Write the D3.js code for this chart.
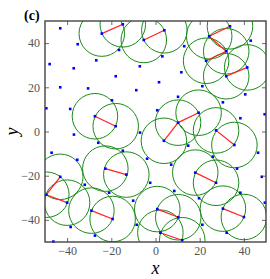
<!DOCTYPE html>
<html><head><meta charset="utf-8">
<script src="https://cdn.jsdelivr.net/npm/d3@7"></script>
<style>html,body{margin:0;padding:0;background:#fff;}svg{display:block;}</style>
</head><body>
<svg id="c" width="270" height="279"></svg>
<script>
// Bonded particles (centres of circles)
const nodeX = [-24.3,-14.8,-5.3,4.0,24.3,33.7,32.0,22.9,32.0,41.5,10.2,19.5,3.8,27.4,35.7,-49.4,-43.1,-40.0,-22.7,-13.2,-29.0,-19.4,-27.4,-18.0,18.0,27.4,0.8,10.3,30.5,40.0,2.2,12.1];
const nodeY = [44.3,48.5,41.4,45.8,43.1,47.6,36.3,32.0,25.0,29.0,4.0,8.5,-4.2,0.5,-6.1,-28.6,-20.5,-32.2,-16.8,-19.5,-35.8,-39.6,6.9,2.4,-18.6,-23.2,-35.1,-38.8,-34.9,-38.7,-45.8,-49.2];
const bondFrom = [0,2,4,4,7,8,10,10,13,15,15,18,20,22,24,26,28,30];
const bondTo   = [1,3,5,6,6,9,11,12,14,16,17,19,21,23,25,27,29,31];
const radius = 10.3;
// Free particles
const freeX = [-43.1,-35.2,-47.9,-37.0,-26.8,-16.5,-43.1,-30.5,-18.0,-7.1,-8.7,-49.4,-38.6,-19.7,-36.9,3.1,13.0,11.7,1.6,21.2,43.1,40.6,30.5,10.2,0.8,38.4,49.4,-7.0,-25.9,-47.0,-35.4,-14.8,-32.0,-21.0,-38.4,-27.4,-10.1,-8.5,14.8,46.4,-3.8,7.1,25.9,36.9,48.1,-2.4,8.5,19.7,38.4,49.5,21.2,32.2,-46.2];
const freeY = [46.7,39.5,30.5,28.6,32.2,36.9,20.0,19.5,25.0,29.5,18.7,10.5,10.2,14.1,-1.4,34.0,38.6,26.8,22.3,20.5,41.1,16.8,13.2,15.7,9.6,6.0,7.8,-0.5,-5.1,-9.6,-12.8,-8.7,-24.1,-27.7,-43.2,-47.1,-31.3,-42.2,-6.4,-9.6,-12.3,-15.0,-11.4,-16.8,-20.5,-23.2,-26.9,-30.2,-27.7,-32.2,-42.2,-45.8,-49.8];
const ticks = [-40,-20,0,20,40];

const svg = d3.select('#c');
const L = 45, R = 266, T = 21, B = 242;
const x = d3.scaleLinear().domain([-50,50]).range([L,R]);
const y = d3.scaleLinear().domain([-50,50]).range([B,T]);

svg.append('defs').append('clipPath').attr('id','clip')
  .append('rect').attr('x',L).attr('y',T).attr('width',R-L).attr('height',B-T);

const plot = svg.append('g').attr('clip-path','url(#clip)');
const used = Array.from(new Set(bondFrom.concat(bondTo))).sort((a,b)=>a-b);
plot.selectAll('circle.ring').data(used).enter().append('circle')
  .attr('class','ring')
  .attr('cx',i=>x(nodeX[i])).attr('cy',i=>y(nodeY[i]))
  .attr('r',x(radius)-x(0))
  .attr('fill','none').attr('stroke','#1a8a1a').attr('stroke-width',1);

plot.selectAll('line.bond').data(bondFrom.map((f,k)=>[f,bondTo[k]])).enter().append('line')
  .attr('x1',d=>x(nodeX[d[0]])).attr('y1',d=>y(nodeY[d[0]]))
  .attr('x2',d=>x(nodeX[d[1]])).attr('y2',d=>y(nodeY[d[1]]))
  .attr('stroke','#ff2020').attr('stroke-width',1.2);

const pts = svg.append('g');
const allX = nodeX.concat(freeX), allY = nodeY.concat(freeY);
pts.selectAll('rect').data(allX.map((v,i)=>[v,allY[i]])).enter().append('rect')
  .attr('x',d=>x(d[0])-1.3).attr('y',d=>y(d[1])-1.3).attr('width',2.6).attr('height',2.6)
  .attr('fill','#0000ff');

// axes (inward ticks on all sides)
const tickCol = '#555', frameCol = '#444';
const fmt = d => d < 0 ? '\u2212' + Math.abs(d) : String(d);
const axB = d3.axisBottom(x).tickValues(ticks).tickSize(-4).tickFormat(fmt).tickPadding(4);
const axL = d3.axisLeft(y).tickValues(ticks).tickSize(-4).tickFormat(fmt).tickPadding(5);
const axT = d3.axisTop(x).tickValues(ticks).tickSize(-4).tickFormat('');
const axR = d3.axisRight(y).tickValues(ticks).tickSize(-4).tickFormat('');
function style(g){
  g.select('.domain').remove();
  g.selectAll('line').attr('stroke',frameCol).attr('stroke-width',0.8);
  g.selectAll('text').attr('fill',tickCol).style('font-family','"Liberation Serif", "DejaVu Serif", serif').style('font-size','12px');
}
svg.append('g').attr('transform',`translate(0,${B})`).call(axB).call(style);
svg.append('g').attr('transform',`translate(${L},0)`).call(axL).call(style);
svg.append('g').attr('transform',`translate(0,${T})`).call(axT).call(style);
svg.append('g').attr('transform',`translate(${R},0)`).call(axR).call(style);

svg.append('rect').attr('x',L).attr('y',T).attr('width',R-L).attr('height',B-T)
  .attr('fill','none').attr('stroke',frameCol).attr('stroke-width',1.4);

svg.append('text').attr('x',(L+R)/2).attr('y',274).attr('text-anchor','middle')
  .style('font-family','"Liberation Serif", serif').style('font-style','italic').style('font-size','18px').text('x');
svg.append('text').attr('transform',`translate(18,${(T+B)/2}) rotate(-90)`).attr('text-anchor','middle')
  .style('font-family','"Liberation Serif", serif').style('font-style','italic').style('font-size','18px').text('y');
svg.append('text').attr('x',24).attr('y',20)
  .style('font-family','"Liberation Serif", serif').style('font-weight','bold').style('font-size','14px').text('(c)');
</script>
</body></html>
